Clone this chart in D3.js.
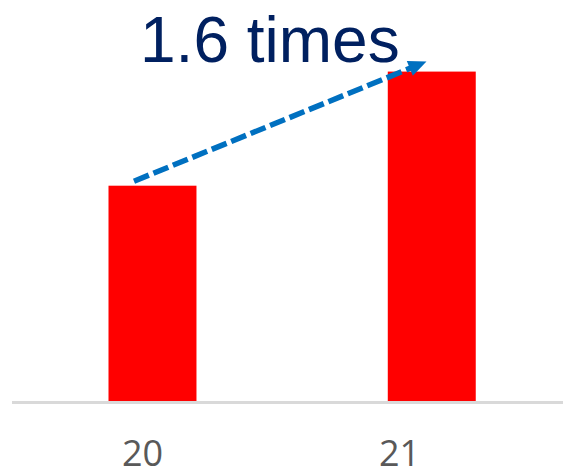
<!DOCTYPE html>
<html>
<head>
<meta charset="utf-8">
<script src="https://cdn.jsdelivr.net/npm/d3@7"></script>
<style>
  html, body { margin: 0; padding: 0; background: #fff; }
  svg { display: block; }
</style>
</head>
<body>
<script>
// ---- data ----
const categories = ["20", "21"];
const values = [1.0, 1.53];
const tickLabels = ["20", "21"];
const annotation = "1.6 times";

// ---- layout ----
const W = 563, H = 469;
const svg = d3.select("body").append("svg").attr("width", W).attr("height", H);

const x = d3.scaleBand().domain(categories).range([108.5, 475.75])
  .paddingInner(0.685).paddingOuter(0);
const y = d3.scaleLinear().domain([0, 1.8625]).range([401, 0]);
const xLabel = d3.scalePoint().domain(categories).range([142, 399]);

// bars
svg.selectAll("rect.bar").data(categories).join("rect")
  .attr("class", "bar")
  .attr("x", d => x(d))
  .attr("y", (d, i) => y(values[i]))
  .attr("width", x.bandwidth())
  .attr("height", (d, i) => y(0) - y(values[i]))
  .attr("fill", "#FF0000");

// baseline
svg.append("line")
  .attr("x1", 12).attr("x2", W)
  .attr("y1", y(0) + 1.5).attr("y2", y(0) + 1.5)
  .attr("stroke", "#D9D9D9").attr("stroke-width", 3);

// tick labels
const axis = d3.axisBottom(xLabel).tickSize(0).tickPadding(0)
  .tickFormat((d, i) => tickLabels[i]);
const gAxis = svg.append("g").attr("transform", "translate(0,439)").call(axis);
gAxis.select(".domain").remove();
gAxis.selectAll("text")
  .attr("dy", null).attr("y", 27)
  .style("font-family", "'Open Sans', 'DejaVu Sans', sans-serif")
  .style("font-size", "36px")
  .attr("fill", "#595959");

// arrow
const x0 = x(categories[0]) + x.bandwidth() * 0.29, y0 = y(values[0]) - 4.5;
const x1 = x(categories[1]) + x.bandwidth() * 0.44, y1 = y(values[1]) - 10;
const ang = Math.atan2(y1 - y0, x1 - x0);
const headLen = 18, headHalf = 8;
const bx = x1 - headLen * Math.cos(ang), by = y1 - headLen * Math.sin(ang);
svg.append("line")
  .attr("x1", x0).attr("y1", y0).attr("x2", bx + 2 * Math.cos(ang)).attr("y2", by + 2 * Math.sin(ang))
  .attr("stroke", "#0070C0").attr("stroke-width", 5.5)
  .attr("stroke-dasharray", "16,5");
const px = -Math.sin(ang), py = Math.cos(ang);
svg.append("path")
  .attr("d", `M${x1},${y1} L${bx + headHalf * px},${by + headHalf * py} L${bx - headHalf * px},${by - headHalf * py} Z`)
  .attr("fill", "#0070C0");

// annotation text
svg.append("text")
  .attr("x", 140).attr("y", 61.5)
  .style("font-family", "'Liberation Sans', Arial, sans-serif")
  .style("font-size", "64px")
  .attr("fill", "#002060")
  .text(annotation);
</script>
</body>
</html>
